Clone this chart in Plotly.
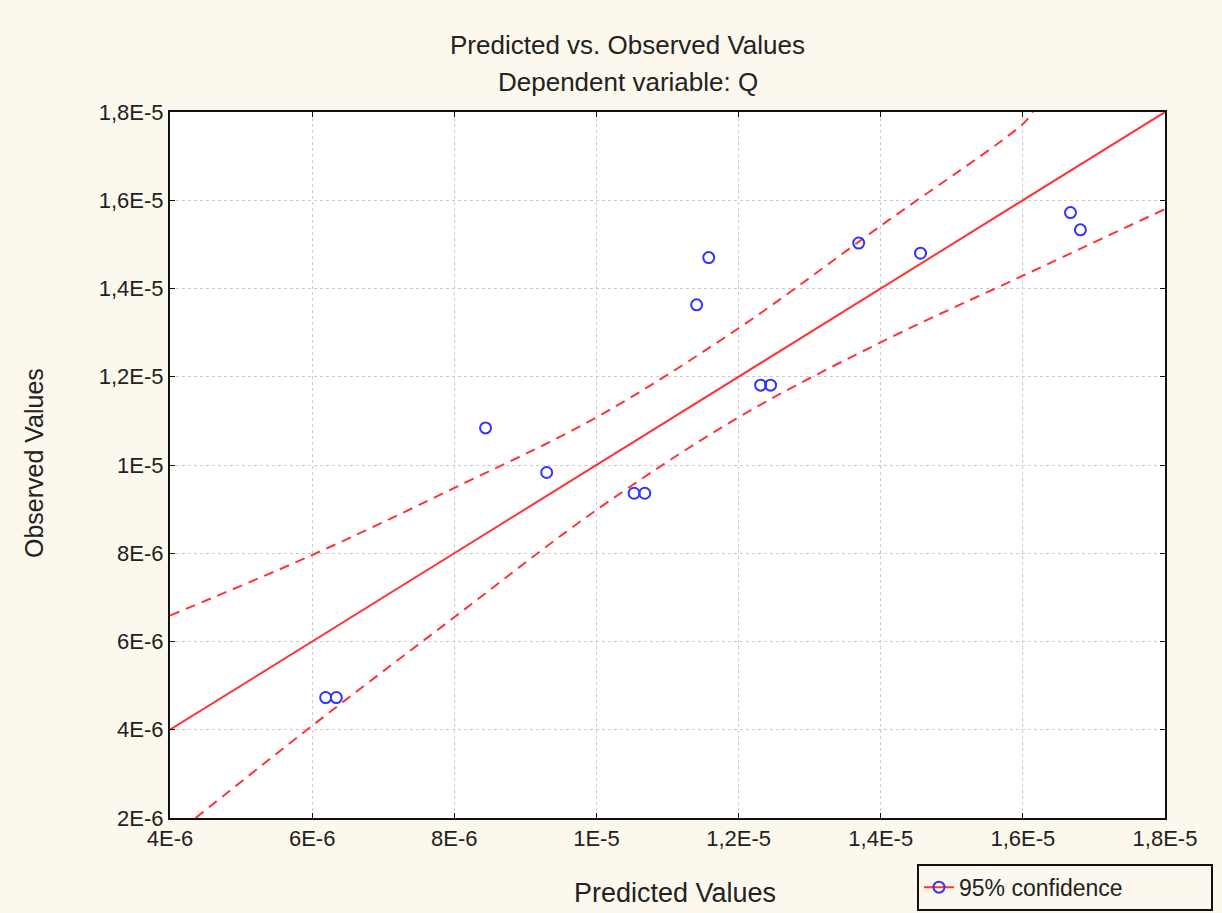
import plotly.graph_objects as go

# Values expressed in units of 1E-6
predicted = [6.19, 6.34, 8.44, 9.30, 10.53, 10.68, 11.41, 11.58, 12.31, 12.45, 13.69, 14.56, 16.67, 16.81]
observed = [4.73, 4.73, 10.84, 9.83, 9.36, 9.36, 13.63, 14.70, 11.81, 11.81, 15.03, 14.80, 15.72, 15.33]

fit_x = [4, 18]
fit_y = [4, 18]

upper_x = [4, 6, 8, 10, 12, 14, 16, 16.14]
upper_y = [6.59, 7.96, 9.48, 11.08, 13.10, 15.42, 17.73, 18.0]
lower_x = [4.36, 6, 8, 10, 12, 14, 16, 18]
lower_y = [2.0, 4.09, 6.55, 8.98, 11.08, 12.78, 14.29, 15.80]

x_ticks = [4, 6, 8, 10, 12, 14, 16, 18]
x_tick_text = ["4E-6", "6E-6", "8E-6", "1E-5", "1,2E-5", "1,4E-5", "1,6E-5", "1,8E-5"]
y_ticks = [2, 4, 6, 8, 10, 12, 14, 16, 18]
y_tick_text = ["2E-6", "4E-6", "6E-6", "8E-6", "1E-5", "1,2E-5", "1,4E-5", "1,6E-5", "1,8E-5"]

RED = "#ff3333"
BLUE = "#3333ff"
BG = "#fcf8ee"
FONT = "Liberation Sans"

fig = go.Figure()
fig.add_trace(go.Scatter(x=upper_x, y=upper_y, mode="lines", showlegend=False,
                         line=dict(color=RED, width=2, dash="10px,7px", shape="spline", smoothing=1.0)))
fig.add_trace(go.Scatter(x=lower_x, y=lower_y, mode="lines", showlegend=False,
                         line=dict(color=RED, width=2, dash="10px,7px", shape="spline", smoothing=1.0)))
fig.add_trace(go.Scatter(x=fit_x, y=fit_y, mode="lines", showlegend=False,
                         line=dict(color=RED, width=2)))
fig.add_trace(go.Scatter(x=predicted, y=observed, mode="markers", showlegend=False,
                         marker=dict(symbol="circle-open", size=11, color=BLUE, line=dict(width=2, color=BLUE))))
fig.add_trace(go.Scatter(x=[None], y=[None], mode="lines+markers", name="95% confidence",
                         line=dict(color=RED, width=2),
                         marker=dict(symbol="circle-open", size=11, color=BLUE, line=dict(width=2, color=BLUE))))

axis_common = dict(
    showgrid=True, gridcolor="#cccccc", griddash="dot", gridwidth=1,
    zeroline=False, showline=True, linecolor="#111111", linewidth=2, mirror="ticks",
    ticks="inside", ticklen=5, tickcolor="#111111",
    tickfont=dict(family=FONT, size=22, color="#222222"),
)
fig.update_xaxes(range=[4, 18], tickmode="array", tickvals=x_ticks, ticktext=x_tick_text, **axis_common)
fig.update_yaxes(range=[2, 18], tickmode="array", tickvals=y_ticks, ticktext=y_tick_text, **axis_common)

fig.update_layout(
    width=1222, height=913,
    margin=dict(l=170, r=57, t=112, b=95, autoexpand=False),
    paper_bgcolor=BG, plot_bgcolor="white",
    font=dict(family=FONT, color="#222222"),
    showlegend=True,
    legend=dict(xref="container", yref="container", x=0.7504, y=0.054, xanchor="left", yanchor="top",
                orientation="h", entrywidth=247, entrywidthmode="pixels",
                bgcolor=BG, bordercolor="#111111", borderwidth=2,
                font=dict(family=FONT, size=23, color="#222222")),
    annotations=[
        dict(text="Predicted vs. Observed Values", xref="paper", yref="paper", x=0.46, y=1.095,
             showarrow=False, xanchor="center", yanchor="middle", font=dict(size=26)),
        dict(text="Dependent variable: Q", xref="paper", yref="paper", x=0.46, y=1.0425,
             showarrow=False, xanchor="center", yanchor="middle", font=dict(size=26)),
        dict(text="Predicted Values", xref="paper", yref="paper", x=0.508, y=-0.106,
             showarrow=False, xanchor="center", yanchor="middle", font=dict(size=27)),
        dict(text="Observed Values", xref="paper", yref="paper", x=-0.1365, y=0.503, textangle=-90,
             showarrow=False, xanchor="center", yanchor="middle", font=dict(size=25)),
    ],
)

fig.write_html("out.html")
